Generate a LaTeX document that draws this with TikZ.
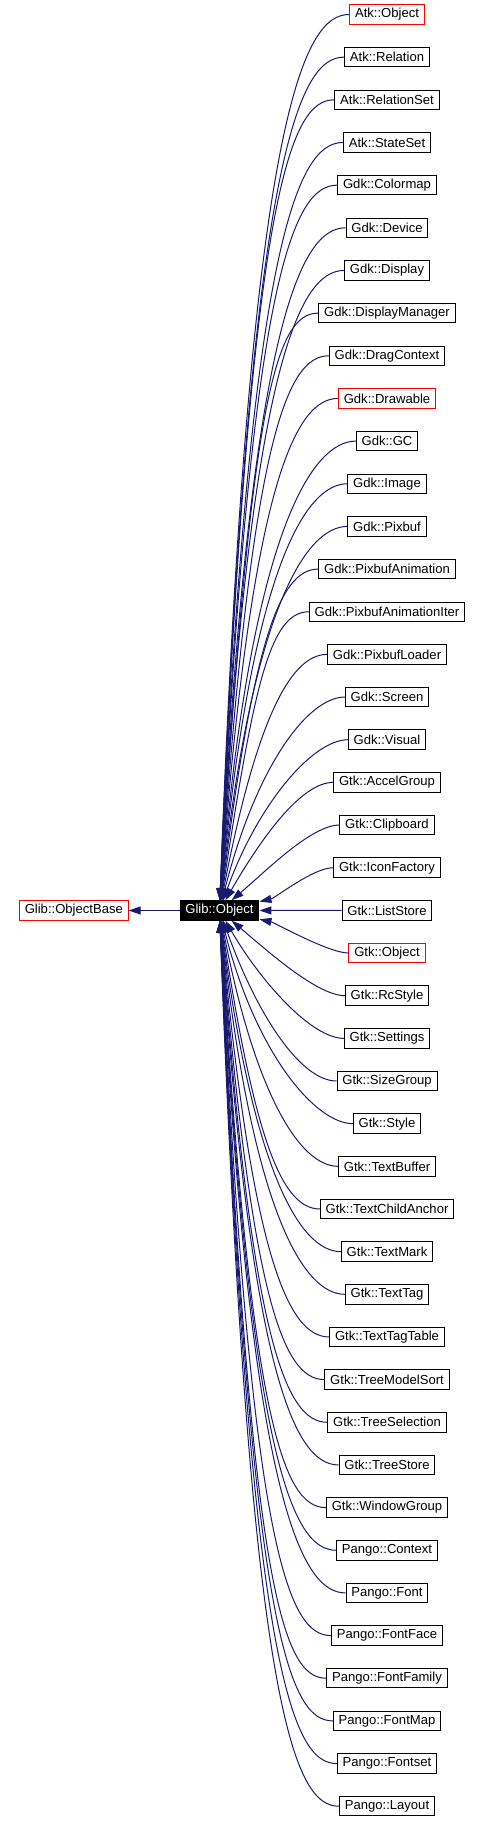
\documentclass[tikz,border=0pt]{standalone}
\usepackage{fontspec}
\setmainfont{Liberation Sans}
\usetikzlibrary{arrows.meta,calc}
\definecolor{edgeblue}{RGB}{25,25,112}
\definecolor{boxred}{RGB}{255,0,0}
\tikzset{
  box/.style={draw=#1, line width=0.75pt, fill=white, inner xsep=4pt, inner ysep=0pt,
    minimum height=14.6pt, font=\fontsize{9.8}{11}\selectfont, text=black},
  box/.default=black,
  mainbox/.style={draw=black, line width=0.75pt, fill=black, inner xsep=4pt, inner ysep=0pt,
    minimum height=14.6pt, font=\fontsize{9.8}{11}\selectfont, text=white},
  edge/.style={draw=edgeblue, line width=0.75pt,
    -{Triangle[length=9pt,width=6pt,fill=edgeblue]}}
}
\begin{document}
\begin{tikzpicture}[x=0.75pt,y=-0.75pt]
\useasboundingbox (0,0) rectangle (481,1822);
\node[mainbox] (GO) at (219.5,910.5) {Glib::Object};
\node[box=boxred] (OB) at (73.8,910.5) {Glib::ObjectBase};
\foreach \lab/\col [count=\j from 0] in {
  Atk::Object/boxred, Atk::Relation/black, Atk::RelationSet/black, Atk::StateSet/black,
  Gdk::Colormap/black, Gdk::Device/black, Gdk::Display/black, Gdk::DisplayManager/black,
  Gdk::DragContext/black, Gdk::Drawable/boxred, Gdk::GC/black, Gdk::Image/black,
  Gdk::Pixbuf/black, Gdk::PixbufAnimation/black, Gdk::PixbufAnimationIter/black,
  Gdk::PixbufLoader/black, Gdk::Screen/black, Gdk::Visual/black, Gtk::AccelGroup/black,
  Gtk::Clipboard/black, Gtk::IconFactory/black, Gtk::ListStore/black, Gtk::Object/boxred,
  Gtk::RcStyle/black, Gtk::Settings/black, Gtk::SizeGroup/black, Gtk::Style/black,
  Gtk::TextBuffer/black, Gtk::TextChildAnchor/black, Gtk::TextMark/black, Gtk::TextTag/black,
  Gtk::TextTagTable/black, Gtk::TreeModelSort/black, Gtk::TreeSelection/black,
  Gtk::TreeStore/black, Gtk::WindowGroup/black, Pango::Context/black, Pango::Font/black,
  Pango::FontFace/black, Pango::FontFamily/black, Pango::FontMap/black, Pango::Fontset/black,
  Pango::Layout/black} {
  \node[box=\col] (n\j) at (387,{14.5+42.66*\j}) {\lab};
}
\draw[edge] (GO) -- (OB);
\foreach \i in {0,...,42} {
  \ifnum\i=21
    \draw[edge] (n21) -- (GO);
  \else
    \pgfmathsetmacro\yi{14.5+42.66*\i}
    \pgfmathsetmacro\s{\yi-910.5}
    \pgfmathsetmacro\a{abs(\s)}
    \pgfmathsetmacro\q{\a/(\a+105)}
    \pgfmathsetmacro\dxp{28+2000/(\a+30)}
    \pgfmathsetmacro\L{48*(\a/(\a+60))}
    \pgfmathsetmacro\px{219.5+\dxp}
    \pgfmathsetmacro\py{910.5+\q*\s}
    \draw[edge] (n\i) .. controls ($(n\i.west)+(-\L,0)$) and (\px,\py) .. (GO);
  \fi
}
\end{tikzpicture}
\end{document}
